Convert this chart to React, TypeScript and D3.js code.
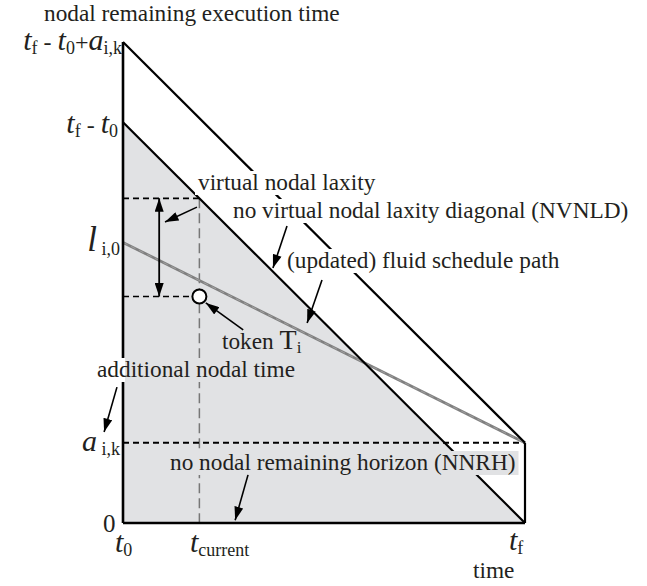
import React, { useRef, useEffect } from 'react';
import * as d3 from 'd3';

// time axis (arbitrary units)
const t0 = 0;
const tf = 10;
const tCurrent = 1.9;
// remaining execution time axis
const aik = 2;
const li0 = 7;
const tokenLaxity = 5.65;
const laxityArrowX = 0.9;

// annotation pointers [from, to] in data units
const pointers: { from: [number, number]; to: [number, number] }[] = [
  { from: [1.84, 7.88], to: [1.045, 7.51] },
  { from: [4.08, 7.41], to: [3.73, 6.36] },
  { from: [4.95, 6.06], to: [4.58, 4.99] },
  { from: [2.99, 4.82], to: [2.06, 5.49] },
  { from: [-0.15, 3.39], to: [-0.47, 2.27] },
  { from: [3.11, 1.2], to: [2.79, 0.07] },
];

const FILL = '#e1e2e4';
const FONT = '"Liberation Serif", "Times New Roman", serif';
const LABEL_SIZE = 23.3;

type Part = { s: string; k: 'it' | 'big' | 'sub' | 'op' };

const App: React.FC = () => {
  const svgRef = useRef<SVGSVGElement | null>(null);

  useEffect(() => {
    if (!svgRef.current) return;
    const svg = d3.select(svgRef.current);
    svg.selectAll('*').remove();

    const x = d3.scaleLinear().domain([t0, tf]).range([123, 525]);
    const y = d3.scaleLinear().domain([0, tf - t0 + aik]).range([523, 42]);
    const line = d3.line<[number, number]>().x(d => x(d[0])).y(d => y(d[1]));

    const defs = svg.append('defs');
    defs
      .append('marker')
      .attr('id', 'head')
      .attr('viewBox', '0 0 12 8')
      .attr('refX', 12)
      .attr('refY', 4)
      .attr('markerWidth', 14)
      .attr('markerHeight', 9)
      .attr('markerUnits', 'userSpaceOnUse')
      .attr('orient', 'auto-start-reverse')
      .append('path')
      .attr('d', 'M0,0L12,4L0,8Z')
      .attr('fill', '#000');

    const gShapes = svg.append('g');
    const gText = svg.append('g').attr('font-family', FONT).attr('fill', '#231f20');
    const gArrows = svg.append('g');

    // grey area under the NRN diagonal
    gShapes
      .append('path')
      .attr('d', line([[t0, 0], [t0, tf - t0], [tf, 0]]) + 'Z')
      .attr('fill', FILL);

    const seg = (pts: [number, number][], stroke: string, w: number, dash?: string) =>
      gShapes
        .append('path')
        .attr('d', line(pts))
        .attr('fill', 'none')
        .attr('stroke', stroke)
        .attr('stroke-width', w)
        .attr('stroke-dasharray', dash ?? null);

    // dashed guides
    seg([[tCurrent, tf - tCurrent], [tCurrent, 0]], '#777', 1.5, '10,5');
    seg([[t0, tf - tCurrent], [tCurrent, tf - tCurrent]], '#000', 1.6, '6,4');
    seg([[t0, tokenLaxity], [tCurrent, tokenLaxity]], '#000', 1.6, '6,4');
    seg([[t0, aik], [tf, aik]], '#000', 2, '6,4');
    // fluid schedule path
    seg([[t0, li0], [tf, aik]], '#808080', 2.8);
    seg([[t0, li0], [tf, aik]], '#a0a0a0', 1, '5,4');
    // diagonals and frame
    seg([[t0, tf - t0], [tf, 0]], '#000', 2.2);
    seg([[t0, tf - t0 + aik], [tf, aik]], '#000', 2.2);
    seg([[tf, 0], [tf, aik]], '#000', 2.2);
    seg([[t0, 0], [tf, 0]], '#000', 2.6);
    seg([[t0, 0], [t0, tf - t0 + aik]], '#000', 2.6);

    // token
    gShapes
      .append('circle')
      .attr('cx', x(tCurrent))
      .attr('cy', y(tokenLaxity))
      .attr('r', 7)
      .attr('fill', '#fff')
      .attr('stroke', '#000')
      .attr('stroke-width', 2);

    // plain labels with optional background box
    const label = (txt: string, px: number, py: number, bg?: string, size = LABEL_SIZE) => {
      const t = gText
        .append('text')
        .attr('x', px)
        .attr('y', py)
        .attr('font-size', size)
        .text(txt);
      if (bg) {
        const b = (t.node() as SVGTextElement).getBBox();
        gText
          .insert('rect', () => t.node() as SVGTextElement)
          .attr('x', b.x - 3)
          .attr('y', b.y + 2)
          .attr('width', b.width + 6)
          .attr('height', b.height - 2)
          .attr('fill', bg);
      }
      return t;
    };

    const sizes = { it: 30, big: 35, sub: 18, op: 24 };
    const math = (parts: Part[], px: number, py: number, anchor: string) => {
      const t = gText.append('text').attr('x', px).attr('y', py).attr('text-anchor', anchor);
      let shift = 0;
      parts.forEach(p => {
        const target = p.k === 'sub' ? 4 : 0;
        t.append('tspan')
          .attr('font-size', sizes[p.k])
          .attr('font-style', p.k === 'it' || p.k === 'big' ? 'italic' : 'normal')
          .attr('dy', target - shift)
          .text(p.s);
        shift = target;
      });
      return t;
    };

    label('nodal remaining execution time', 44, 21);
    label('time', 473, 578);
    label('virtual nodal laxity', 198, 190, '#fff');
    label('no virtual nodal laxity diagonal (NVNLD)', 233, 218, '#fff');
    label('(updated) fluid schedule path', 287, 268, '#fff');
    label('no nodal remaining horizon (NNRH)', 170, 470, FILL);

    // additional nodal time: white outside, grey inside the area
    const add = label('additional nodal time', 97, 377);
    const ab = (add.node() as SVGTextElement).getBBox();
    gText
      .insert('rect', () => add.node() as SVGTextElement)
      .attr('x', ab.x - 3)
      .attr('y', ab.y + 2)
      .attr('width', x(t0) + 2 - (ab.x - 3))
      .attr('height', ab.height - 2)
      .attr('fill', '#fff');
    gText
      .insert('rect', () => add.node() as SVGTextElement)
      .attr('x', x(t0) + 2)
      .attr('y', ab.y + 2)
      .attr('width', ab.x + ab.width + 3 - x(t0) - 2)
      .attr('height', ab.height - 2)
      .attr('fill', FILL);

    const tok = gText.append('text').attr('x', 222).attr('y', 349);
    tok.append('tspan').attr('font-size', LABEL_SIZE).text('token ');
    tok.append('tspan').attr('font-size', 28).text('T');
    tok.append('tspan').attr('font-size', 17).attr('dy', 4).text('i');

    label('0', 103, 532, undefined, 25);

    math([{ s: 't', k: 'it' }, { s: 'f', k: 'sub' }, { s: ' - ', k: 'op' }, { s: 't', k: 'it' }, { s: '0', k: 'sub' }, { s: '+', k: 'op' }, { s: 'a', k: 'it' }, { s: 'i,k', k: 'sub' }], 122, 50, 'end');
    math([{ s: 't', k: 'it' }, { s: 'f', k: 'sub' }, { s: ' - ', k: 'op' }, { s: 't', k: 'it' }, { s: '0', k: 'sub' }], 118, 133, 'end');
    math([{ s: 'l', k: 'big' }, { s: ' i,0', k: 'sub' }], 120, 251, 'end');
    math([{ s: 'a', k: 'it' }, { s: ' i,k', k: 'sub' }], 120, 451, 'end');
    math([{ s: 't', k: 'it' }, { s: '0', k: 'sub' }], 115, 552, 'start');
    math([{ s: 't', k: 'it' }, { s: 'current', k: 'sub' }], 190, 552, 'start');
    math([{ s: 't', k: 'it' }, { s: 'f', k: 'sub' }], 509, 550, 'start');

    // pointers
    pointers.forEach(p => {
      gArrows
        .append('path')
        .attr('d', line([p.from, p.to]))
        .attr('stroke', '#000')
        .attr('stroke-width', 1.6)
        .attr('marker-end', 'url(#head)');
    });
    // virtual nodal laxity double arrow
    gArrows
      .append('path')
      .attr('d', line([[laxityArrowX, tf - tCurrent], [laxityArrowX, tokenLaxity]]))
      .attr('stroke', '#000')
      .attr('stroke-width', 1.8)
      .attr('marker-start', 'url(#head)')
      .attr('marker-end', 'url(#head)');
  }, []);

  return (
    <svg
      ref={svgRef}
      width={647}
      height={586}
      style={{ position: 'absolute', left: 0, top: 0, background: '#fff' }}
    ></svg>
  );
};

export default App;
